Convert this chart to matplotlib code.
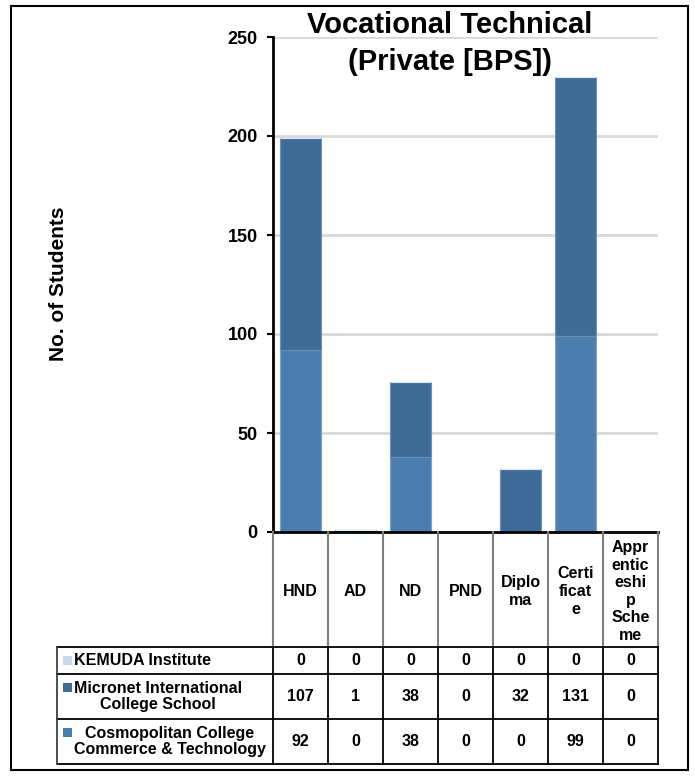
import matplotlib
matplotlib.use("Agg")
import matplotlib.pyplot as plt
import matplotlib.transforms as mtransforms
from matplotlib.patches import Rectangle
from matplotlib.lines import Line2D
import numpy as np

plt.rcParams['font.family'] = ['Liberation Sans', 'DejaVu Sans']
plt.rcParams['font.weight'] = 'bold'

# ---- data ----
categories = ["HND", "AD", "ND", "PND", "Diplo\nma", "Certi\nficat\ne",
              "Appr\nentic\neshi\np\nSche\nme"]
series_names = ["KEMUDA Institute",
                "Micronet International\nCollege School",
                "Cosmopolitan College\nCommerce & Technology"]
kemuda = [0, 0, 0, 0, 0, 0, 0]
micronet = [107, 1, 38, 0, 32, 131, 0]
cosmopolitan = [92, 0, 38, 0, 0, 99, 0]
yticks = [0, 50, 100, 150, 200, 250]
title_lines = ["Vocational Technical", "(Private [BPS])"]
ylabel = "No. of Students"

colors = {"kemuda": "#C6D9EF", "micronet": "#3F6B98", "cosmo": "#4A7EB0"}
edge = {"kemuda": "#DCE8F5", "micronet": "#6E90B5", "cosmo": "#7EA3C9"}

W, H = 695, 776
fig = plt.figure(figsize=(W / 100, H / 100), dpi=100)

def fx(px):
    return px / W

def fy(py):
    return 1 - py / H

ax_l, ax_r, ax_t, ax_b = 273, 658, 37, 532
ax = fig.add_axes([fx(ax_l), fy(ax_b), fx(ax_r) - fx(ax_l), fy(ax_t) - fy(ax_b)])

x = np.arange(len(categories))
bw = 0.76
ax.bar(x, cosmopolitan, bw, color=colors["cosmo"], edgecolor=edge["cosmo"], linewidth=0.8, zorder=3)
ax.bar(x, micronet, bw, bottom=cosmopolitan, color=colors["micronet"],
       edgecolor=edge["micronet"], linewidth=0.8, zorder=3)
bot2 = np.array(cosmopolitan) + np.array(micronet)
ax.bar(x, kemuda, bw, bottom=bot2, color=colors["kemuda"], edgecolor=edge["kemuda"],
       linewidth=0.8, zorder=3)

ax.set_xlim(-0.5, len(categories) - 0.5)
ax.set_ylim(0, 250)
ax.set_yticks(yticks)
ax.set_yticklabels([str(v) for v in yticks], fontsize=13, fontweight='bold')
ax.tick_params(axis='y', length=4, width=1.5, pad=7, direction='out')
ax.tick_params(axis='x', bottom=False, labelbottom=False)
ax.yaxis.grid(True, color='#D9D9D9', linewidth=2, zorder=0)
ax.set_axisbelow(True)
for s in ['top', 'right']:
    ax.spines[s].set_visible(False)
ax.spines['left'].set_linewidth(2)
ax.spines['bottom'].set_linewidth(2)
ax.spines['bottom'].set_zorder(5)

# title (one text per line) and y label
for line, base in zip(title_lines, [33, 70]):
    fig.text(fx(449.5), fy(base), line, ha='center', va='baseline', fontsize=21,
             fontweight='bold')
fig.text(fx(58), fy(284), ylabel, ha='center', va='center', rotation=90,
         fontsize=15, fontweight='bold')

# ---- data table ----
tr = mtransforms.blended_transform_factory(ax.transData, fig.transFigure)
edges_x = np.arange(len(categories) + 1) - 0.5
hdr_top, hdr_bot = ax_b, 647
row_lines = [647, 674, 719, 764]
row_centers = [(row_lines[i] + row_lines[i + 1]) / 2 for i in range(3)]
lab_left = 57

# header vertical gray lines
for ex in edges_x:
    fig.add_artist(Line2D([ex, ex], [fy(hdr_top), fy(hdr_bot)], transform=tr,
                          color='#808080', linewidth=1.5))
# header labels
for xi, c in zip(x, categories):
    fig.text(xi, fy((hdr_top + hdr_bot) / 2 + 2), c, transform=tr, ha='center', va='center',
             fontsize=11.5, fontweight='bold', linespacing=1.22)

# body horizontal lines
for ry in row_lines:
    fig.add_artist(Line2D([fx(lab_left), fx(ax_r)], [fy(ry), fy(ry)],
                          transform=fig.transFigure, color='black', linewidth=1.3))
# body vertical lines
for ex in edges_x:
    fig.add_artist(Line2D([ex, ex], [fy(row_lines[0]), fy(row_lines[-1])], transform=tr,
                          color='black', linewidth=1.3))
fig.add_artist(Line2D([fx(lab_left), fx(lab_left)], [fy(row_lines[0]), fy(row_lines[-1])],
                      transform=fig.transFigure, color='#404040', linewidth=1.3))

rows = [kemuda, micronet, cosmopolitan]
keys = ["kemuda", "micronet", "cosmo"]
for r, (vals, name, key) in enumerate(zip(rows, series_names, keys)):
    cy = row_centers[r]
    for xi, v in zip(x, vals):
        fig.text(xi, fy(cy), str(v), transform=tr, ha='center', va='center',
                 fontsize=11.5, fontweight='bold')
    # legend key
    nlines = name.count("\n") + 1
    top_line_y = cy - (nlines - 1) * 9
    fig.add_artist(Rectangle((fx(63), fy(top_line_y + 4.5)), fx(9), 9 / H,
                             transform=fig.transFigure, facecolor=colors[key],
                             edgecolor='none'))
    fig.text(fx(74), fy(cy), name, ha='left', va='center', fontsize=11.5,
             fontweight='bold', multialignment='center', linespacing=1.1)

# outer border
fig.add_artist(Rectangle((fx(11), fy(770)), fx(688) - fx(11), fy(6) - fy(770),
                         transform=fig.transFigure, facecolor='none',
                         edgecolor='black', linewidth=1.5))

fig.savefig("out.png", dpi=100)
